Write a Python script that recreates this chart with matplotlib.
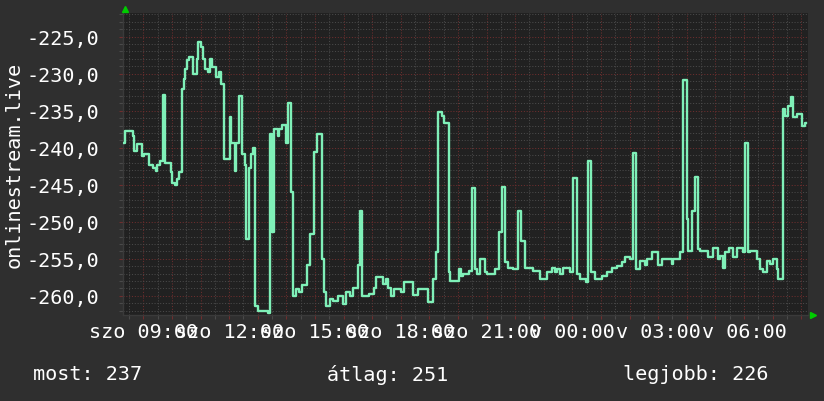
import matplotlib
matplotlib.use("Agg")
import matplotlib.pyplot as plt
from matplotlib.ticker import MultipleLocator, FuncFormatter

# time in hours since Saturday 00:00 (step start), value = -rank
hours = [
    8.30, 8.36, 8.63, 8.67, 8.79, 8.94, 9.02, 9.21, 9.35, 9.45, 9.49, 9.58, 9.70, 9.76,
    9.97, 10.02, 10.12, 10.18, 10.26, 10.36, 10.42, 10.47, 10.53, 10.60, 10.75, 10.86,
    10.92, 11.01, 11.07, 11.14, 11.27, 11.33, 11.41, 11.55, 11.64, 11.72, 11.83, 12.02,
    12.08, 12.19, 12.25, 12.34, 12.44, 12.54, 12.60, 12.70, 12.77, 12.83, 12.92, 13.00,
    13.35, 13.42, 13.51, 13.56, 13.70, 13.76, 13.85, 13.99, 14.06, 14.17, 14.24, 14.35,
    14.45, 14.56, 14.72, 14.82, 14.98, 15.08, 15.26, 15.33, 15.40, 15.52, 15.62, 15.80,
    15.97, 16.09, 16.21, 16.33, 16.50, 16.57, 16.65, 16.90, 17.08, 17.14, 17.37, 17.49,
    17.55, 17.66, 17.78, 18.01, 18.13, 18.42, 18.60, 18.95, 19.12, 19.24, 19.30, 19.44,
    19.50, 19.68, 19.74, 20.05, 20.11,
    20.19, 20.37, 20.48, 20.58, 20.68, 20.77, 20.93, 21.01, 21.30, 21.45, 21.53, 21.66,
    21.76, 21.94, 22.11, 22.21, 22.33, 22.64, 22.87, 23.10, 23.28, 23.40, 23.48, 23.57,
    23.69, 23.92, 24.04, 24.16, 24.27, 24.48, 24.56, 24.66, 24.79, 25.03, 25.20, 25.38,
    25.55, 25.73, 25.84, 26.02, 26.13, 26.23, 26.37, 26.54, 26.60, 26.78, 27.01, 27.13,
    27.48, 27.53, 27.77, 27.88, 28.00, 28.06, 28.17, 28.29, 28.39, 28.47, 28.76, 28.93,
    29.11, 29.17, 29.28, 29.34, 29.46, 29.63, 29.75, 29.98, 30.04, 30.14, 30.21, 30.45,
    30.56, 30.68, 30.80, 30.91, 31.03, 31.15, 31.20, 31.36, 31.44, 31.55, 31.64, 31.73,
    31.85, 32.02, 32.12, 32.17,
]
values = [
    -239.4, -237.7, -238.4, -240.4, -239.5, -241.1, -240.9, -242.4, -242.7, -243.1, -242.4, -241.8, -232.9, -242.0,
    -243.3, -244.7, -245.1, -244.2, -243.3, -232.1, -230.7, -229.4, -228.2, -227.8, -230.0, -228.0,
    -225.7, -226.4, -228.0, -229.4, -229.8, -228.0, -229.1, -230.5, -229.8, -231.4, -241.5, -235.9,
    -239.3, -243.1, -239.3, -233.0, -240.9, -242.4, -252.3, -242.7, -240.9, -240.0, -261.4, -262.0,
    -262.3, -238.2, -251.4, -237.5, -238.4, -237.5, -236.9, -239.3, -233.9, -246.0, -260.0, -259.1,
    -259.5, -258.6, -255.9, -251.7, -240.6, -238.2, -255.0, -259.5, -261.4, -260.5, -260.7, -260.0,
    -261.1, -259.5, -260.0, -258.9, -255.9, -248.6, -260.0, -259.8, -258.9, -257.5, -258.4, -257.7,
    -258.9, -260.0, -259.1, -259.5, -258.2, -259.9, -259.1, -260.9, -257.7, -254.1, -235.2, -235.7,
    -236.6, -256.8, -258.0, -256.4, -257.3,
    -257.1, -256.6, -245.5, -256.4, -257.1, -255.0, -256.8, -257.1, -256.4, -251.4, -245.3, -255.5,
    -256.2, -256.4, -248.5, -252.6, -256.2, -256.6, -257.7, -256.8, -256.2, -256.8, -256.4, -257.1,
    -256.2, -256.8, -244.1, -257.1, -257.7, -258.1, -241.8, -256.8, -257.7, -257.3, -256.8, -256.3,
    -256.0, -255.5, -254.8, -255.0, -240.7, -256.4, -255.3, -255.9, -255.0, -254.1, -255.9, -255.0,
    -255.7, -255.0, -254.1, -230.8, -249.6, -253.9, -248.5, -244.0, -253.7, -253.9, -254.8, -253.5,
    -255.0, -254.6, -256.2, -254.1, -253.6, -254.8, -253.6, -254.1, -239.3, -254.1, -254.0, -255.0,
    -256.4, -256.8, -255.3, -255.7, -255.0, -256.4, -257.7, -234.8, -235.7, -234.3, -233.1, -235.9,
    -235.5, -237.0, -236.7, -236.7,
]

tick_hours = [9, 12, 15, 18, 21, 24, 27, 30]
tick_labels = ["szo 09:00", "szo 12:00", "szo 15:00", "szo 18:00", "szo 21:00",
               "v 00:00", "v 03:00", "v 06:00"]
y_label = "onlinestream.live"
legend_items = ["most: 237", "átlag: 251", "legjobb: 226"]

BG = "#2f2f2f"
PLOT_BG = "#212121"
LINE = "#7ff0b8"
MAJ = "#6e2e2e"
MIN = "#4a4a4a"
FONT = "DejaVu Sans Mono"
FS = 14.5

fig = plt.figure(figsize=(8.24, 4.02), dpi=100, facecolor=BG)
ax = fig.add_axes([123 / 824, 1 - 316 / 402, (808.3 - 123) / 824, (316 - 14) / 402])
ax.set_facecolor(PLOT_BG)

ax.set_xlim(8.29, 32.25)
ax.set_ylim(-262.6, -221.8)

ax.xaxis.set_minor_locator(MultipleLocator(0.5))
ax.yaxis.set_major_locator(MultipleLocator(5))
ax.yaxis.set_minor_locator(MultipleLocator(1))

ax.grid(which="minor", color=MIN, linestyle=(0, (1.1, 1.8)), linewidth=0.7)
ax.grid(which="major", color=MAJ, linestyle=(0, (1.1, 1.8)), linewidth=0.7)
ax.set_axisbelow(True)

for name, s in ax.spines.items():
    if name in ("left", "bottom"):
        s.set_color("#3a3a3a")
        s.set_linewidth(1.0)
    else:
        s.set_visible(False)

ax.tick_params(axis="both", which="both", length=3, width=0.8, direction="out")
ax.tick_params(axis="both", which="major", colors=MAJ, labelcolor="white",
               labelsize=FS)
ax.tick_params(axis="both", which="minor", colors=MIN)
ax.tick_params(axis="y", which="major", pad=14)
ax.tick_params(axis="x", which="major", pad=2)

ax.yaxis.set_major_formatter(FuncFormatter(lambda v, p: f"{v:.1f}".replace(".", ",")))

# major grid each hour, label only every third hour
ax.set_xticks(list(range(9, 33)))
lbl = {h: t for h, t in zip(tick_hours, tick_labels)}
ax.set_xticklabels([lbl.get(h, "") for h in range(9, 33)])

for t in ax.get_xticklabels() + ax.get_yticklabels():
    t.set_fontfamily(FONT)

ax.step(hours, values, where="post", color=LINE, linewidth=1.7, zorder=3)

fig.text(14 / 824, 1 - 165 / 402, y_label, rotation=90, ha="center", va="center",
         color="white", fontsize=FS, fontfamily=FONT)

leg_x = [33, 327, 623]
for x, t in zip(leg_x, legend_items):
    fig.text(x / 824, 1 - 375 / 402, t, ha="left", va="center", color="white",
             fontsize=FS, fontfamily=FONT)

# green arrows on the axes
ax.plot([0.003], [1.012], marker="^", color="#00cc00", markersize=5,
        transform=ax.transAxes, clip_on=False, zorder=5)
ax.plot([1.007], [0.0], marker=">", color="#00cc00", markersize=5,
        transform=ax.transAxes, clip_on=False, zorder=5)

fig.savefig("out.png", dpi=100, facecolor=BG)
